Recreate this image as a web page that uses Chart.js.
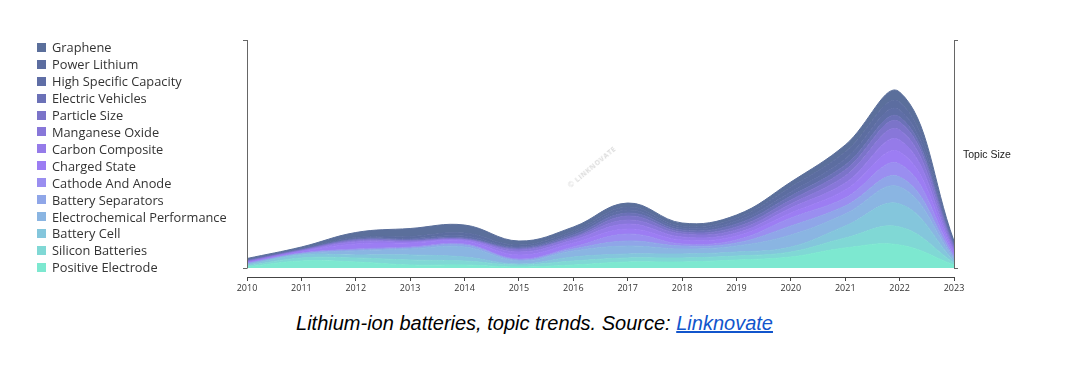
<!DOCTYPE html>
<html>
<head>
<meta charset="utf-8">
<script src="https://cdn.jsdelivr.net/npm/chart.js@4/dist/chart.umd.min.js"></script>
<style>
  html, body { margin:0; padding:0; background:#fff; width:1090px; height:379px; overflow:hidden; }
  body { position:relative; }
  #wrap { position:absolute; left:0; top:0; width:1090px; height:300px; }
  #legend { position:absolute; left:37px; top:39px; font-family:'Open Sans', sans-serif; font-size:12.8px; color:#333; }
  .li { height:16.92px; display:flex; align-items:center; white-space:nowrap; }
  .sw { width:9px; height:9px; margin-right:6px; flex:none; }
  #topic { position:absolute; left:963px; top:148px; font-family:'Liberation Sans', Arial, sans-serif; font-size:10.5px; color:#222; }
  #caption { position:absolute; left:0; width:1069px; top:312px; text-align:center; font-family:'Liberation Sans', Arial, sans-serif; font-style:italic; font-size:20px; color:#000; }
  #caption a { color:#1155cc; text-decoration:underline; }
  #wm { position:absolute; left:592px; top:167px; transform:translate(-50%,-50%) rotate(-40deg); font-family:'Open Sans', sans-serif; font-weight:700; font-size:7px; letter-spacing:0.6px; color:#dcdcdc; white-space:nowrap; }
</style>
</head>
<body>
<div id="wrap"><canvas id="c" width="1090" height="300"></canvas></div>
<div id="legend"></div>
<div id="topic">Topic Size</div>
<div id="wm">© LINKNOVATE</div>
<div id="caption">Lithium-ion batteries, topic trends. Source: <a href="#">Linknovate</a></div>
<script>
// ---- data (topic size per year) ----
const years = ['2010','2011','2012','2013','2014','2015','2016','2017','2018','2019','2020','2021','2022','2023'];

const seriesNames = ['Graphene','Power Lithium','High Specific Capacity','Electric Vehicles','Particle Size',
  'Manganese Oxide','Carbon Composite','Charged State','Cathode And Anode','Battery Separators',
  'Electrochemical Performance','Battery Cell','Silicon Batteries','Positive Electrode'];

const graphene                   = [1.0, 1.5, 5, 8, 8, 4, 4, 4, 3, 3, 5, 7, 10, 1.5];
const powerLithium               = [0.5, 0.5, 1, 2, 3, 2, 2, 3, 2, 3, 5, 7, 8, 1.5];
const highSpecificCapacity       = [0.5, 0.5, 1, 1, 2, 1, 2, 3, 2, 3, 4, 6, 7, 1.5];
const electricVehicles           = [0.5, 0.5, 0.5, 1, 1, 1, 2, 3, 2, 3, 4, 5, 5, 1.5];
const particleSize               = [0.5, 0.5, 1, 0.5, 0.5, 1, 1, 4, 2, 3, 4, 6, 8, 2];
const manganeseOxide             = [0.5, 0.5, 1, 1, 0.5, 2, 2, 4, 3, 3, 4, 7, 10, 2];
const carbonComposite            = [0.5, 0.5, 2, 1, 1, 3, 3, 5, 3, 3, 5, 7, 12, 2];
const chargedState               = [0.5, 1.5, 5, 4, 3, 4, 4, 5, 4, 4, 5, 8, 12, 2];
const cathodeAndAnode            = [0.5, 0.5, 1, 1, 1, 1, 2, 7, 2, 3, 8, 8, 13, 2];
const batterySeparators          = [0.5, 0.5, 1, 1, 2, 1, 2, 5, 3, 3, 9, 8, 10, 2];
const electrochemicalPerformance = [1.0, 1.0, 4, 6, 10, 3, 6, 8, 5, 6, 12, 12, 17, 2];
const batteryCell                = [1.0, 3.0, 3, 5, 4, 1, 4, 4, 4, 4, 5, 12, 23, 2];
const siliconBatteries           = [1.0, 3.0, 4, 5, 4, 2, 4, 4, 4, 4, 5, 10, 18, 2];
const positiveElectrode          = [1.0, 7.0, 6, 3, 3, 1, 3, 6, 6, 8, 11, 20, 23, 3];

const seriesValues = [graphene, powerLithium, highSpecificCapacity, electricVehicles, particleSize,
  manganeseOxide, carbonComposite, chargedState, cathodeAndAnode, batterySeparators,
  electrochemicalPerformance, batteryCell, siliconBatteries, positiveElectrode];

// ---- styles ----
const palette = ['#5b6f9b','#5c6da0','#5f6ea6','#6b71b7','#7b74c9','#8877d9','#957be9',
  '#9c7df3','#9a8ef0','#8fa6e8','#8ab5e2','#84c6dc','#80d8d5','#7de8d0'];
const Y_MAX = 228;
const Y_MIN = -9;

// legend (top to bottom)
const legendEl = document.getElementById('legend');
seriesNames.forEach((n, i) => {
  const row = document.createElement('div'); row.className = 'li';
  const sw = document.createElement('span'); sw.className = 'sw'; sw.style.background = palette[i];
  const tx = document.createElement('span'); tx.textContent = n;
  row.appendChild(sw); row.appendChild(tx); legendEl.appendChild(row);
});

// datasets bottom-up
const datasets = [];
for (let i = seriesNames.length - 1; i >= 0; i--) {
  datasets.push({
    label: seriesNames[i],
    data: seriesValues[i],
    backgroundColor: palette[i],
    borderColor: palette[i],
    borderWidth: 1,
    pointRadius: 0,
    fill: datasets.length === 0 ? 'origin' : '-1',
    tension: 0.4
  });
}

const axisLines = {
  id: 'axisLines',
  afterDraw(chart) {
    const ctx = chart.ctx, y = chart.scales.y, a = chart.chartArea;
    const top = y.getPixelForValue(Y_MAX), bot = y.getPixelForValue(0);
    ctx.save();
    ctx.strokeStyle = '#666'; ctx.lineWidth = 1;
    [a.left, a.right].forEach(x => {
      const px = Math.round(x) + 0.5;
      ctx.beginPath(); ctx.moveTo(px, top); ctx.lineTo(px, bot + 0.5); ctx.stroke();
    });
    ctx.restore();
  }
};

const yAxisCommon = {
  type: 'linear', min: Y_MIN, max: Y_MAX,
  afterBuildTicks: s => { s.ticks = [{value: 0}, {value: Y_MAX}]; },
  ticks: { display: false },
  grid: { drawOnChartArea: false, drawTicks: true, tickLength: 4, color: '#666' },
  border: { display: false },
  afterFit: s => { s.width = 10; }
};

new Chart(document.getElementById('c'), {
  type: 'line',
  data: { labels: years, datasets },
  options: {
    responsive: false,
    animation: false,
    devicePixelRatio: 1,
    layout: { padding: { left: 237, right: 126, top: 40, bottom: 0 } },
    plugins: { legend: { display: false }, tooltip: { enabled: false } },
    scales: {
      x: {
        type: 'category',
        grid: { drawOnChartArea: false, drawTicks: true, tickLength: 4, color: '#444' },
        border: { display: true, color: '#444', width: 1 },
        ticks: { font: { family: 'Open Sans', size: 9 }, color: '#333', padding: 2, maxRotation: 0, autoSkip: false },
        afterFit: s => { s.height = 23; }
      },
      y: Object.assign({}, yAxisCommon, { position: 'left', stacked: true }),
      y2: Object.assign({}, yAxisCommon, { position: 'right' })
    }
  },
  plugins: [axisLines]
});
</script>
</body>
</html>
